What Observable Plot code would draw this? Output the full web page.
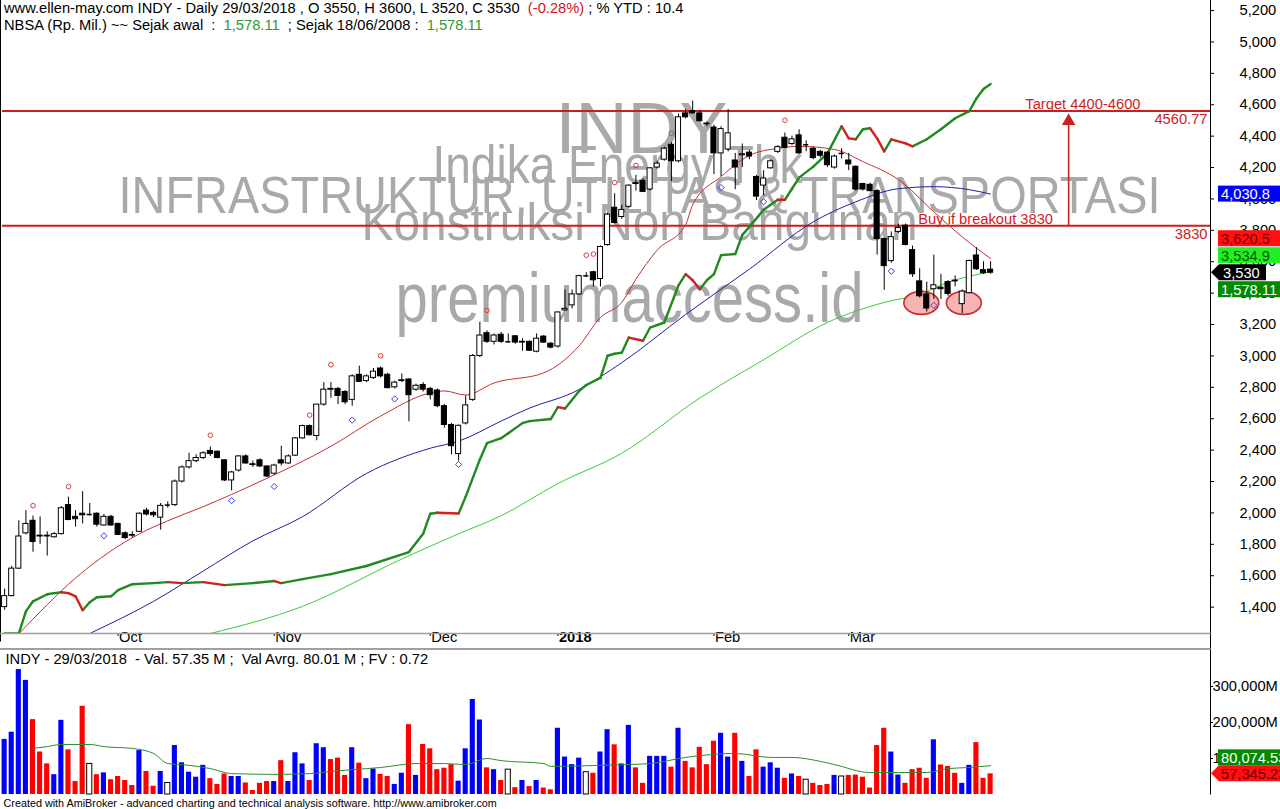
<!DOCTYPE html>
<html><head><meta charset="utf-8">
<script src="https://cdn.jsdelivr.net/npm/d3@7"></script>
<script src="https://cdn.jsdelivr.net/npm/@observablehq/plot@0.6"></script>
<style>
body{margin:0;background:#fff;}
#wrap{position:relative;width:1280px;height:809px;overflow:hidden;font-family:"Liberation Sans",Arial,Helvetica,sans-serif;background:#fff;}
#hdr{position:absolute;left:4px;top:0px;font-size:14.7px;line-height:17px;white-space:pre;color:#000;z-index:2;}
#charts svg{display:block;}
.r{color:#d01515}.g{color:#2f9a2f}
</style></head><body>
<div id="wrap">
<div id="hdr"><div>www.ellen-may.com INDY - Daily 29/03/2018 , O 3550, H 3600, L 3520, C 3530  <span class="r">(-0.28%)</span> ; % YTD : 10.4</div><div>NBSA (Rp. Mil.) ~~ Sejak awal  :  <span class="g">1,578.11</span>  ; Sejak 18/06/2008 :  <span class="g">1,578.11</span></div></div>
<div id="charts"></div>
</div>
<script>
// ---------------- DATA ----------------
const open = [1400,1470,1645,1870,1950,1855,1855,1845,1865,2050,1975,1995,1990,1995,1920,1975,1930,1870,1860,1880,2015,2000,1970,2050,2050,2200,2290,2330,2350,2395,2390,2335,2207,2270,2360,2310,2335,2296,2250,2335,2315,2365,2475,2553,2490,2690,2790,2790,2770,2720,2880,2840,2860,2920,2880,2800,2840,2850,2785,2815,2790,2780,2680,2560,2375,2570,2720,3000,3145,3090,3135,3090,3125,3085,3090,3027,3123,3078,3060,3290,3322,3392,3510,3533,3490,3706,3944,3885,3950,4100,4115,4060,4200,4250,4345,4240,4545,4560,4545,4480,4455,4290,4315,4245,4278,4295,4140,4085,4195,4300,4390,4350,4405,4345,4320,4300,4295,4200,4290,4245,4205,4095,4090,4050,3745,3604,3790,3830,3674,3475,3392,3425,3435,3470,3480,3330,3400,3640,3546,3550];
const high = [1515,1660,1950,2015,1980,1975,1880,1875,2040,2100,2015,2135,2060,2000,1990,1985,1935,1880,1880,2000,2030,2010,2060,2070,2210,2300,2380,2370,2390,2420,2395,2340,2265,2365,2370,2330,2345,2300,2310,2425,2370,2480,2560,2560,2690,2830,2830,2800,2780,2880,2935,2880,2920,2930,2890,2840,2885,2855,2820,2830,2800,2790,2690,2570,2560,2745,3010,3215,3160,3140,3150,3140,3130,3110,3095,3140,3130,3085,3280,3420,3420,3515,3530,3540,3700,3910,4033,3960,4090,4150,4130,4200,4240,4330,4360,4540,4570,4623,4560,4490,4470,4460,4570,4290,4350,4310,4150,4180,4250,4340,4420,4400,4440,4370,4330,4310,4300,4280,4320,4290,4210,4100,4100,4060,3750,3790,3840,3840,3700,3555,3470,3642,3520,3480,3510,3420,3610,3690,3600,3600];
const low = [1380,1465,1640,1860,1750,1800,1725,1840,1860,1950,1910,1930,1980,1910,1915,1915,1855,1830,1840,1875,1980,1970,1890,2030,2040,2190,2280,2320,2340,2360,2345,2200,2140,2260,2310,2290,2290,2225,2240,2300,2310,2360,2470,2490,2460,2680,2730,2690,2690,2680,2830,2830,2850,2860,2790,2790,2830,2580,2775,2770,2720,2670,2540,2370,2330,2560,2710,2990,3080,3070,3080,3080,3075,3030,3030,3020,3080,3045,3050,3285,3300,3385,3500,3440,3440,3700,3840,3870,3940,4050,4040,4050,4190,4240,4110,4230,4510,4540,4490,4460,4155,4142,4300,4059,4200,4250,3990,4020,4190,4290,4320,4340,4280,4300,4250,4260,4200,4190,4255,4180,4050,4050,4045,3642,3418,3590,3780,3700,3500,3370,3280,3360,3360,3380,3440,3270,3395,3545,3520,3520];
const close = [1470,1645,1850,1930,1815,1850,1850,1865,2030,1955,1960,1985,1990,1925,1975,1920,1860,1840,1855,1995,1990,1985,2045,2050,2200,2290,2330,2350,2380,2375,2350,2207,2258,2360,2315,2305,2296,2232,2302,2315,2360,2475,2553,2495,2690,2785,2785,2745,2705,2870,2835,2870,2900,2870,2795,2830,2845,2750,2810,2785,2750,2680,2560,2425,2555,2685,3000,3130,3090,3130,3090,3090,3085,3090,3033,3110,3085,3053,3277,3300,3392,3508,3510,3482,3694,3900,3847,3930,4085,4095,4045,4195,4225,4320,4240,4520,4520,4545,4495,4475,4290,4445,4418,4200,4285,4270,4015,4130,4240,4330,4325,4380,4290,4345,4260,4275,4215,4270,4290,4220,4060,4060,4050,3745,3572,3757,3815,3707,3520,3380,3302,3450,3425,3395,3475,3410,3605,3552,3527,3530];
// traded value, thousands of M
const volume = [153,173,347,317,208,118,85,55,206,124,36,245,85,55,60,41,50,39,25,122,64,23,64,32,136,88,62,48,81,44,28,57,50,50,32,11,31,36,36,94,36,116,85,39,141,130,97,101,53,130,87,44,71,56,50,28,59,194,53,139,127,69,73,83,37,127,264,207,74,69,39,69,19,39,22,39,18,13,184,104,83,101,62,59,118,180,138,85,192,74,31,106,106,106,76,184,92,74,131,83,148,170,104,170,92,50,124,76,88,73,45,57,50,41,31,25,28,53,50,53,54,48,18,136,184,118,54,31,69,73,45,152,82,78,59,31,81,144,45,57.34523];

const ma20Idx = [2,5,9,15,19,23,28,36,46,53,60,62,65,69,76,81,84,87,89,92,96,97,101,105,109,112,117,121,126,131,135,139];
const ma20Val = [1230,1370,1546,1758,1867,1950,2040,2200,2424,2617,2764,2777,2751,2828,2892,3065,3245,3341,3489,3674,3835,3963,4142,4277,4322,4335,4315,4238,4123,3918,3758,3620.5];
const ma50Idx = [12,21,28,35,42,51,60,64,70,74,80,87,96,105,114,120,126,131,136,139];
const ma50Val = [1232,1437,1630,1822,1976,2251,2412,2457,2585,2668,2764,2957,3264,3553,3854,3982,4065,4078,4059,4030.8];
const ma100Idx = [29,42,56,64,70,78,87,98,107,116,124,129,133,139];
const ma100Val = [1232,1405,1707,1867,1982,2187,2380,2732,2976,3213,3341,3392,3469,3534.9];

const nbsaIdx = [0,2,3,4,6,7,8,9,10,11,12,13,15,16,18,21,23,25,28,31,35,38,39,42,46,51,57,59,60,61,64,65,67,68,70,71,73,74,77,78,79,81,82,84,85,86,87,88,90,91,93,95,96,97,98,99,100,101,103,104,105,107,109,110,111,112,114,116,118,119,120,121,122,123,124,125,127,128,130,132,134,136,137,138,139];
const nbsaVal = [1232,1232,1373,1437,1482,1489,1495,1489,1469,1380,1431,1463,1469,1508,1546,1553,1559,1553,1559,1540,1553,1566,1553,1578,1610,1662,1751,1867,1995,2001,1996,2104,2341,2444,2476,2508,2572,2585,2598,2674,2665,2777,2815,2860,3001,3014,3021,3117,3097,3181,3213,3450,3521,3482,3424,3482,3521,3642,3649,3771,3822,3931,3995,3995,4065,4136,4206,4290,4463,4386,4380,4444,4450,4386,4303,4380,4354,4335,4380,4444,4514,4559,4640,4700,4732];

const volMaIdx = [4,6,8,12,14,18,21,23,26,29,32,38,43,46,49,53,58,62,65,68,70,76,77,84,91,96,103,108,111,115,117,122,126,130,133,136,139];
const volMaVal = [128,133,139,139,133,128,114,86,81,72,58,56,58,64,69,75,86,86,83,100,94,86,78,81,86,103,114,103,103,92,83,61,61,61,72,75,80.07453];

const peakIdx = [4,9,29,43,46,53,68,82,83,86,89,94,110];
const peakVal = [2046,2168,2495,2623,2944,3001,3290,3642,3649,4104,4213,4418,4501];
const troughIdx = [14,32,38,49,55,64,101,107,125,131];
const troughVal = [1854,2078,2168,2591,2726,2309,4072,3982,3540,3322];

const levels = [4560.77, 3830];
const levelLabels = ["4560.77", "3830"];
const targetText = "Target 4400-4600";
const breakoutText = "Buy if breakout 3830";
const targetTop = 4540;

const monthIdx = [16, 38, 60, 78, 100, 119];
const monthLabels = ["Oct", "Nov", "Dec", "2018", "Feb", "Mar"];
const priceTicks = [1400,1600,1800,2000,2200,2400,2600,2800,3000,3200,3400,3600,3800,4000,4200,4400,4600,4800,5000,5200];
const volTicks = [100, 200, 300];

const watermarkText = ["INDY", "Indika Energy Tbk", "INFRASTRUKTUR, UTILITAS & TRANSPORTASI", "Konstruksi Non Bangunan", "premiumaccess.id"];
const volHeader = "INDY - 29/03/2018  - Val. 57.35 M ;  Val Avrg. 80.01 M ; FV : 0.72";
const footer = "Created with AmiBroker - advanced charting and technical analysis software. http://www.amibroker.com";

const lastClose = 3530, nbsaTotal = 1578.11;
const doubleBottomIdx = [129.3, 135.3];
const doubleBottomLevel = 3335;

// ---------------- LAYOUT / BUILD ----------------
const FONT = '"Liberation Sans", Arial, Helvetica, sans-serif';
const FS = 14.7;
const HALF = 0.36;
const xDomain = [-0.3, 170];
const candles = open.map((o, i) => ({i, o, h: high[i], l: low[i], c: close[i]}));
const downC = candles.filter(d => d.c < d.o);
const upC = candles.filter(d => d.c > d.o);
const flatC = candles.filter(d => d.c === d.o);
const pts = (a, b) => a.map((x, k) => ({x, y: b[k]}));
const nbsaPts = pts(nbsaIdx, nbsaVal);
const nbsaSegs = d3.pairs(nbsaPts).map(([a, b]) => ({x1: a.x, y1: a.y, x2: b.x, y2: b.y, up: b.y >= a.y && !(b.y === a.y && a.x > 10)}));
const vols = volume.map((v, i) => ({i, v, k: close[i] > open[i] ? "up" : close[i] < open[i] ? "down" : "flat"}));
const months = monthIdx.map((x, k) => ({x, label: monthLabels[k]}));

const wmLayout = [
  {left: 555, base: 152, size: 73, len: 172},
  {left: 432, base: 182, size: 54, len: 370},
  {left: 118, base: 212, size: 52, len: 1042},
  {left: 361, base: 239, size: 51, len: 556},
  {left: 395, base: 321, size: 70, len: 468}
];

function frameLines(showLeft) {
  return (index, scales, values, dims) => {
    const g = d3.create("svg:g");
    const xr = dims.width - dims.marginRight + 0.5;
    const yb = dims.height - dims.marginBottom + 0.5;
    if (showLeft) g.append("line").attr("x1", 0.5).attr("x2", 0.5).attr("y1", 0).attr("y2", yb + 8).attr("stroke", "#000");
    g.append("line").attr("x1", xr).attr("x2", xr).attr("y1", 0).attr("y2", showLeft ? dims.height : yb).attr("stroke", "#000");
    if (showLeft) {
      g.append("line").attr("x1", 0).attr("x2", xr).attr("y1", yb).attr("y2", yb).attr("stroke", "#a0a0a0").attr("stroke-width", 1.5);
      g.append("line").attr("x1", 0).attr("x2", xr).attr("y1", dims.height - 1).attr("y2", dims.height - 1).attr("stroke", "#a0a0a0").attr("stroke-width", 2);
    }
    return g.node();
  };
}

function drawBadge(g, x0, cy, text, fill, color, arrow) {
  const h = 16;
  if (arrow) {
    g.append("path").attr("d", `M${x0 + 1},${cy} L${x0 + 9},${cy - h / 2} L${1280},${cy - h / 2} L${1280},${cy + h / 2} L${x0 + 9},${cy + h / 2} Z`).attr("fill", fill);
  } else {
    g.append("rect").attr("x", x0 + 8).attr("y", cy - h / 2).attr("width", 1280 - x0 - 8).attr("height", h).attr("fill", fill);
  }
  g.append("text").attr("x", x0 + 11).attr("y", cy).attr("dy", "0.36em").attr("fill", color)
    .attr("text-anchor", "start").attr("font-size", FS).text(text);
}

const priceBadges = (index, scales, values, dims) => {
  const g = d3.create("svg:g").attr("text-anchor", "start");
  const x0 = dims.width - dims.marginRight;
  const yClose = scales.y(lastClose);
  drawBadge(g, x0, scales.y(ma50Val[ma50Val.length - 1]), d3.format(",.1f")(ma50Val[ma50Val.length - 1]), "#0000ff", "#fff", false);
  drawBadge(g, x0, yClose - 34, d3.format(",.1f")(ma20Val[ma20Val.length - 1]), "#ff1010", "#7a0000", false);
  drawBadge(g, x0, yClose - 17, d3.format(",.1f")(ma100Val[ma100Val.length - 1]), "#22ee22", "#005a00", false);
  g.append("path").attr("d", `M${x0 + 1},${yClose} L${x0 + 9},${yClose - 8} L${x0 + 56},${yClose - 8} L${x0 + 56},${yClose + 8} L${x0 + 9},${yClose + 8} Z`).attr("fill", "#000");
  g.append("text").attr("x", x0 + 13).attr("y", yClose).attr("dy", "0.36em").attr("fill", "#fff").attr("text-anchor", "start").attr("font-size", FS).text(d3.format(",")(lastClose));
  drawBadge(g, x0, yClose + 17, d3.format(",.2f")(nbsaTotal), "#008a00", "#fff", false);
  return g.node();
};

const ellipsesMark = (index, scales) => {
  const g = d3.create("svg:g");
  for (const c of doubleBottomIdx) {
    g.append("ellipse").attr("cx", scales.x(c)).attr("cy", scales.y(doubleBottomLevel))
      .attr("rx", 17.5).attr("ry", 11.5).attr("fill", "#f5b5b5").attr("stroke", "#d02a2a").attr("stroke-width", 1.6);
  }
  return g.node();
};

const RED = "#cc1e1e";
const price = Plot.plot({
  width: 1280, height: 650,
  marginLeft: 2, marginRight: 70, marginTop: 0, marginBottom: 17,
  style: {fontFamily: FONT, fontSize: FS + "px", background: "white", color: "black", overflow: "hidden"},
  x: {domain: xDomain, ticks: monthIdx, tickSize: 3, tickFormat: () => "", label: null},
  y: {domain: [1232, 5264], axis: "right", ticks: priceTicks, tickFormat: d3.format(","), tickSize: 3, tickPadding: 26, label: null},
  marks: [
    ...watermarkText.map((t, k) => Plot.text([t], {text: d => d, frameAnchor: "top-left", dx: wmLayout[k].left - 2, dy: wmLayout[k].base, textAnchor: "start", lineAnchor: "bottom", fontSize: wmLayout[k].size, fill: "#a9a9a9"})),
    Plot.ruleY(levels, {stroke: RED, strokeWidth: 2}),
    Plot.text(levelLabels, {y: (d, k) => levels[k], text: d => d, frameAnchor: "right", dx: -3, dy: 3, textAnchor: "end", lineAnchor: "top", fill: RED, fontSize: FS}),
    Plot.text([targetText], {x: 143.9, y: levels[0], text: d => d, dy: -2, textAnchor: "start", lineAnchor: "bottom", fill: RED, fontSize: FS}),
    Plot.text([breakoutText], {x: 128.8, y: levels[1], text: d => d, dy: -2, textAnchor: "start", lineAnchor: "bottom", fill: RED, fontSize: FS}),
    Plot.link([0], {x1: 150, x2: 150, y1: levels[1], y2: targetTop - 60, stroke: RED, strokeWidth: 1.6}),
    Plot.dot([0], {x: 150, y: targetTop - 45, symbol: "triangle", r: 5, fill: RED}),
    Plot.line(pts(ma20Idx, ma20Val), {x: "x", y: "y", stroke: "#c83030", strokeWidth: 1, curve: "monotone-x", clip: true}),
    Plot.line(pts(ma50Idx, ma50Val), {x: "x", y: "y", stroke: "#2020a0", strokeWidth: 1, curve: "monotone-x", clip: true}),
    Plot.line(pts(ma100Idx, ma100Val), {x: "x", y: "y", stroke: "#3ccc3c", strokeWidth: 1, curve: "monotone-x", clip: true}),
    Plot.link(nbsaSegs.filter(d => d.up), {x1: "x1", y1: "y1", x2: "x2", y2: "y2", stroke: "#1f8a1f", strokeWidth: 2.4, strokeLinecap: "round", clip: true}),
    Plot.link(nbsaSegs.filter(d => !d.up), {x1: "x1", y1: "y1", x2: "x2", y2: "y2", stroke: "#d02020", strokeWidth: 2.4, strokeLinecap: "round", clip: true}),
    ellipsesMark,
    Plot.ruleX(candles, {x: "i", y1: "l", y2: "h", stroke: "#000", strokeWidth: 1}),
    Plot.rect(downC, {x1: d => d.i - HALF, x2: d => d.i + HALF, y1: "o", y2: "c", fill: "#000", stroke: "#000", strokeWidth: 1}),
    Plot.rect(upC, {x1: d => d.i - HALF, x2: d => d.i + HALF, y1: "o", y2: "c", fill: "#fff", stroke: "#000", strokeWidth: 1}),
    Plot.ruleY(flatC, {y: "o", x1: d => d.i - HALF, x2: d => d.i + HALF, stroke: "#000", strokeWidth: 1.5}),
    Plot.dot(pts(peakIdx, peakVal), {x: "x", y: "y", r: 2.3, stroke: "#e03a3a", fill: "none", strokeWidth: 1}),
    Plot.dot(pts(troughIdx, troughVal), {x: "x", y: "y", r: 2.8, symbol: "diamond2", stroke: "#3a3aff", fill: "none", strokeWidth: 1}),
    Plot.text(months.filter(d => d.label !== "2018"), {x: "x", text: "label", frameAnchor: "bottom", dx: 1, dy: 8, textAnchor: "start", fontSize: FS}),
    Plot.text(months.filter(d => d.label === "2018"), {x: "x", text: "label", frameAnchor: "bottom", dx: 1, dy: 8, textAnchor: "start", fontSize: FS, fontWeight: "bold"}),
    frameLines(true),
    priceBadges
  ]
});

// fit the watermark strings to their measured widths
d3.select(price).selectAll("text").each(function () {
  const k = watermarkText.indexOf(this.textContent);
  if (k >= 0) { this.setAttribute("textLength", wmLayout[k].len); this.setAttribute("lengthAdjust", "spacingAndGlyphs"); }
});

const volBadges = (index, scales, values, dims) => {
  const g = d3.create("svg:g").attr("text-anchor", "start");
  const x0 = dims.width - dims.marginRight;
  const yv = scales.y(volume[volume.length - 1]);
  drawBadge(g, x0, yv - 16, d3.format(",.2f")(volMaVal[volMaVal.length - 1] * 1000), "#008a00", "#fff", false);
  drawBadge(g, x0, yv, d3.format(",.2f")(volume[volume.length - 1] * 1000), "#ff1010", "#6a0000", true);
  return g.node();
};

const vol = Plot.plot({
  width: 1280, height: 159,
  marginLeft: 2, marginRight: 70, marginTop: 0, marginBottom: 15,
  style: {fontFamily: FONT, fontSize: FS + "px", background: "white", color: "black", overflow: "hidden", whiteSpace: "pre"},
  x: {domain: xDomain, axis: null},
  y: {domain: [0, 400], axis: "right", ticks: volTicks, tickFormat: d => d3.format(",")(d * 1000) + "M", tickSize: 2, tickPadding: 0, label: null},
  marks: [
    Plot.rect(vols.filter(d => d.k === "up"), {x1: d => d.i - HALF, x2: d => d.i + HALF, y1: 0, y2: "v", fill: "#0000ff"}),
    Plot.rect(vols.filter(d => d.k === "down"), {x1: d => d.i - HALF, x2: d => d.i + HALF, y1: 0, y2: "v", fill: "#ff0000"}),
    Plot.rect(vols.filter(d => d.k === "flat"), {x1: d => d.i - HALF, x2: d => d.i + HALF, y1: 0, y2: "v", fill: "#fff", stroke: "#000", strokeWidth: 1}),
    Plot.line(pts(volMaIdx, volMaVal), {x: "x", y: "y", stroke: "#2e8b2e", strokeWidth: 1, curve: "monotone-x"}),
    Plot.text([volHeader], {text: d => d, frameAnchor: "top-left", dx: 3, dy: 13, textAnchor: "start", lineAnchor: "bottom", fontSize: FS}),
    Plot.text([footer], {text: d => d, frameAnchor: "bottom-left", dx: 1, dy: 12, textAnchor: "start", lineAnchor: "bottom", fontSize: 10.8}),
    frameLines(false),
    volBadges
  ]
});

document.getElementById("charts").append(price, vol);
</script>
</body></html>
